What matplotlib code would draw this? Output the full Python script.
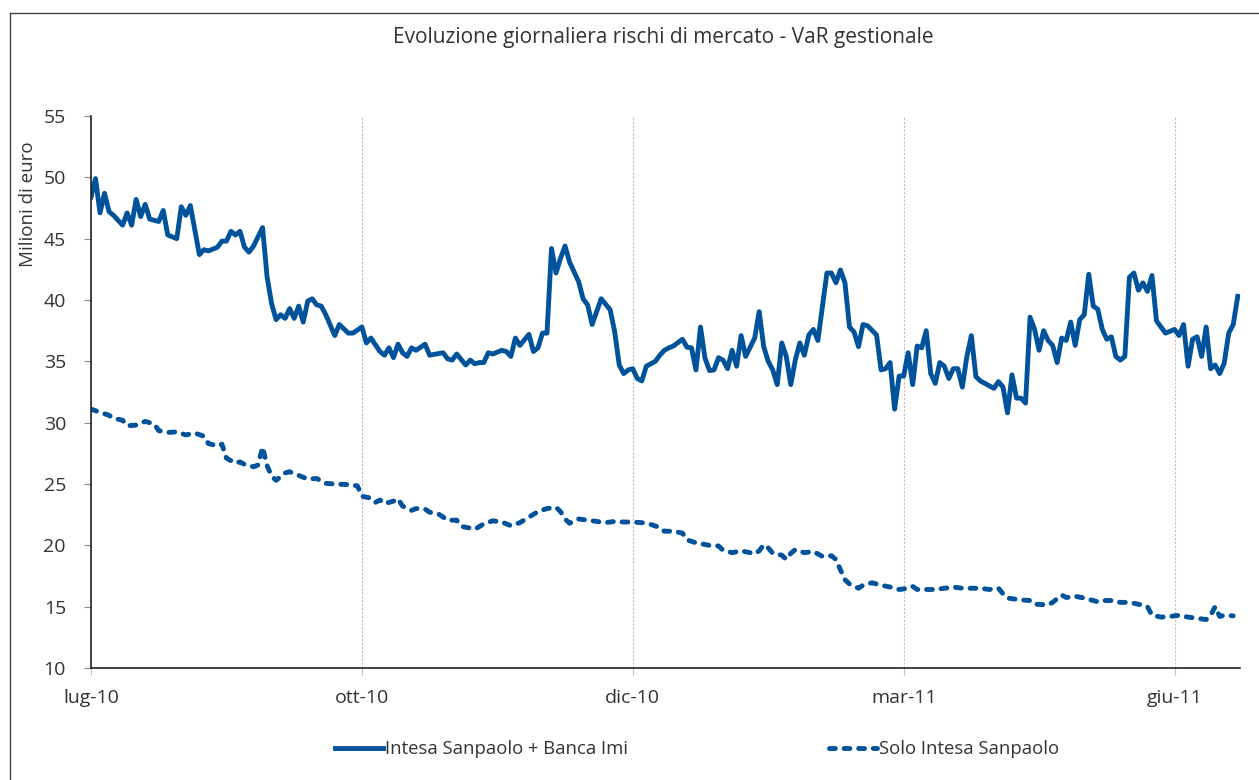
import matplotlib.pyplot as plt
from matplotlib.lines import Line2D

# daily observations (index of trading day since start of July 2010)
tick_pos = [0, 60, 120, 180, 240]
tick_labels = ["lug-10", "ott-10", "dic-10", "mar-11", "giu-11"]

group_x = [0, 1, 2, 3, 4, 5, 7, 8, 9, 10, 11, 12, 13, 15, 16, 17, 19, 20, 21, 22,
           24, 25, 26, 28, 29, 30, 31, 32, 33, 34, 35, 36, 38, 39, 40, 41, 42, 43, 44, 45,
           46, 47, 48, 49, 50, 51, 52, 54, 55, 57, 58, 60, 61, 62, 64, 65, 66, 67, 68, 69,
           70, 71, 72, 74, 75, 78, 79, 80, 81, 83, 84, 85, 86, 87, 88, 89, 91, 92, 93, 94,
           95, 97, 98, 99, 100, 101, 102, 103, 104, 105, 106, 108, 109, 110, 111, 113, 115, 116, 117, 118,
           119, 120, 121, 122, 123, 125, 126, 127, 128, 129, 131, 132, 133, 134, 135, 136, 137, 138, 139, 140,
           141, 142, 143, 144, 145, 147, 148, 149, 150, 151, 152, 153, 154, 155, 156, 157, 158, 159, 160, 161,
           163, 164, 165, 166, 167, 168, 169, 170, 171, 172, 174, 175, 176, 177, 178, 179, 180, 181, 182, 183,
           184, 185, 186, 187, 188, 189, 190, 191, 192, 193, 194, 195, 196, 197, 198, 200, 201, 202, 203, 204,
           205, 206, 207, 208, 209, 210, 211, 212, 213, 214, 215, 216, 217, 218, 219, 220, 221, 222, 223, 224,
           225, 226, 227, 228, 229, 230, 231, 232, 233, 234, 235, 236, 237, 238, 240, 241, 242, 243, 244, 245,
           246, 247, 248, 249, 250, 251, 252, 253, 254]
group_var = [48.4, 49.9, 47.1, 48.7, 47.2, 46.9, 46.1, 47.1, 46.1, 48.2, 46.8, 47.8, 46.6, 46.4, 47.3, 45.3, 45.0, 47.6, 46.9, 47.7,
             43.7, 44.1, 44.0, 44.3, 44.8, 44.8, 45.6, 45.3, 45.6, 44.3, 43.9, 44.4, 45.9, 41.9, 39.7, 38.4, 38.8, 38.5, 39.3, 38.5,
             39.5, 38.2, 39.9, 40.1, 39.6, 39.5, 38.8, 37.1, 38.0, 37.3, 37.3, 37.8, 36.5, 36.9, 35.8, 35.5, 36.1, 35.3, 36.4, 35.7,
             35.4, 36.1, 35.9, 36.4, 35.5, 35.7, 35.2, 35.1, 35.6, 34.7, 35.1, 34.8, 34.9, 34.9, 35.7, 35.6, 35.9, 35.8, 35.4, 36.9,
             36.3, 37.2, 35.8, 36.1, 37.3, 37.3, 44.2, 42.2, 43.4, 44.4, 43.1, 41.5, 40.1, 39.6, 38.0, 40.1, 39.2, 37.4, 34.7, 34.0,
             34.3, 34.4, 33.6, 33.4, 34.6, 35.0, 35.5, 35.9, 36.1, 36.25, 36.8, 36.15, 36.1, 34.3, 37.8, 35.25, 34.25, 34.3, 35.3, 35.1,
             34.4, 35.9, 34.6, 37.1, 35.4, 36.9, 39.05, 36.2, 35.0, 34.3, 33.1, 36.5, 35.4, 33.1, 35.1, 36.5, 35.5, 37.15, 37.6, 36.7,
             42.2, 42.2, 41.4, 42.45, 41.4, 37.8, 37.4, 36.2, 38.0, 37.9, 37.15, 34.3, 34.4, 34.9, 31.1, 33.8, 33.8, 35.7, 33.1, 36.25,
             36.1, 37.5, 34.0, 33.2, 34.9, 34.6, 33.6, 34.4, 34.4, 32.9, 35.4, 37.1, 33.75, 33.4, 33.2, 32.8, 33.35, 32.9, 30.8, 33.9,
             32.0, 32.0, 31.6, 38.6, 37.6, 35.9, 37.5, 36.7, 36.3, 34.9, 36.9, 36.7, 38.2, 36.3, 38.4, 38.8, 42.1, 39.5, 39.25, 37.6,
             36.8, 37.0, 35.4, 35.1, 35.4, 41.85, 42.2, 40.8, 41.4, 40.7, 42.0, 38.3, 37.8, 37.3, 37.6, 37.1, 38.0, 34.6, 36.8, 37.0,
             35.4, 37.8, 34.4, 34.7, 34.0, 34.85, 37.3, 38.0, 40.3]

isp_x = [0, 2, 4, 5, 7, 8, 10, 12, 14, 15, 17, 19, 21, 23, 25, 26, 28, 29, 30, 32,
         33, 34, 36, 37, 38, 39, 40, 41, 43, 44, 47, 48, 50, 52, 54, 57, 59, 60, 62, 63,
         64, 65, 67, 68, 69, 71, 72, 74, 75, 77, 79, 81, 82, 84, 85, 87, 89, 91, 93, 95,
         97, 99, 101, 103, 104, 105, 106, 108, 110, 112, 114, 116, 118, 120, 122, 124, 126, 127, 129, 131,
         132, 134, 137, 139, 140, 142, 144, 146, 147, 148, 149, 150, 151, 153, 154, 155, 156, 158, 160, 162,
         164, 165, 166, 167, 168, 170, 171, 173, 175, 177, 179, 181, 182, 183, 185, 187, 189, 191, 193, 195,
         197, 199, 201, 202, 203, 206, 208, 209, 212, 213, 215, 216, 218, 220, 223, 224, 226, 228, 230, 232,
         234, 235, 237, 239, 241, 243, 245, 247, 248, 249, 250, 251, 253]
isp_var = [31.1, 30.85, 30.6, 30.35, 30.2, 29.75, 29.8, 30.1, 29.9, 29.35, 29.2, 29.25, 29.0, 29.15, 28.9, 28.3, 28.1, 28.25, 27.1, 26.7,
           26.8, 26.6, 26.4, 26.55, 28.0, 26.5, 25.65, 25.3, 25.9, 26.0, 25.55, 25.4, 25.45, 25.05, 25.0, 24.95, 24.85, 24.0, 23.85, 23.5,
           23.7, 23.4, 23.6, 23.8, 23.2, 22.85, 23.0, 22.95, 22.7, 22.55, 22.05, 22.05, 21.55, 21.4, 21.3, 21.75, 22.0, 21.9, 21.6, 21.85,
           22.3, 22.75, 23.0, 23.1, 22.75, 22.15, 21.8, 22.15, 22.05, 21.95, 21.85, 21.95, 21.9, 21.9, 21.85, 21.7, 21.45, 21.15, 21.15, 21.0,
           20.45, 20.2, 20.0, 19.95, 19.6, 19.4, 19.55, 19.4, 19.3, 19.55, 20.05, 19.8, 19.35, 19.2, 18.85, 19.35, 19.65, 19.4, 19.5, 19.1,
           19.15, 18.85, 18.0, 17.2, 16.85, 16.5, 16.75, 16.95, 16.75, 16.6, 16.4, 16.5, 16.65, 16.4, 16.4, 16.4, 16.5, 16.6, 16.5, 16.5,
           16.5, 16.4, 16.5, 16.05, 15.7, 15.55, 15.5, 15.2, 15.15, 15.35, 15.95, 15.75, 15.85, 15.7, 15.4, 15.5, 15.5, 15.35, 15.35, 15.2,
           15.0, 14.3, 14.15, 14.2, 14.3, 14.15, 14.05, 13.95, 14.3, 15.0, 14.2, 14.3, 14.25]

blue = "#00529B"
text_col = "#333333"
plt.rcParams["font.family"] = ["Open Sans", "DejaVu Sans"]

fig = plt.figure(figsize=(12.59, 7.80), dpi=100)
ax = fig.add_axes([91 / 1259, 112 / 780, 1149 / 1259, 552 / 780])

l1, = ax.plot(group_x, group_var, color=blue, lw=3.5, solid_joinstyle="round")
l2, = ax.plot(isp_x, isp_var, color=blue, lw=3.5, linestyle=(0, (1.2, 1.8)),
              dash_capstyle="round", dash_joinstyle="round")

ax.set_xlim(0, 254.5)
ax.set_ylim(10, 55)
ax.set_yticks(range(10, 56, 5))
ax.set_xticks(tick_pos)
ax.set_xticklabels(tick_labels)
ax.grid(axis="x", color="#BFBFBF", lw=0.8, ls=(0, (2, 1.5)))

for s in ["top", "right"]:
    ax.spines[s].set_visible(False)
for s in ["left", "bottom"]:
    ax.spines[s].set_color("#222222")
    ax.spines[s].set_linewidth(1.2)

ax.tick_params(axis="y", direction="out", length=5, width=0.8, color="#888888",
               pad=13, labelsize=14, labelcolor=text_col)
ax.tick_params(axis="x", direction="out", length=5, width=0.8, color="#BFBFBF",
               pad=10, labelsize=14, labelcolor=text_col)

ax.set_ylabel("Milioni di euro", fontsize=13.5, color=text_col)
ax.yaxis.set_label_coords(-0.047, 0.84)

fig.text(663 / 1259, 1 - 38 / 780, "Evoluzione giornaliera rischi di mercato - VaR gestionale",
         ha="center", va="center", fontsize=15, color=text_col)

fig.legend([l1, l2], ["Intesa Sanpaolo + Banca Imi", "Solo Intesa Sanpaolo"],
           loc="center", bbox_to_anchor=(697 / 1259, 1 - 749 / 780), ncol=2,
           frameon=False, fontsize=13.3, handlelength=2.6, handletextpad=0.1,
           columnspacing=10.9, labelcolor=text_col)

# outer frame (left and top edges visible)
fx = 10.5 / 1259
fy = 1 - 13 / 780
fig.add_artist(Line2D([fx, fx], [0, fy], transform=fig.transFigure, color="#444444", lw=1))
fig.add_artist(Line2D([fx, 1], [fy, fy], transform=fig.transFigure, color="#444444", lw=1))

fig.savefig("out.png", dpi=100)
